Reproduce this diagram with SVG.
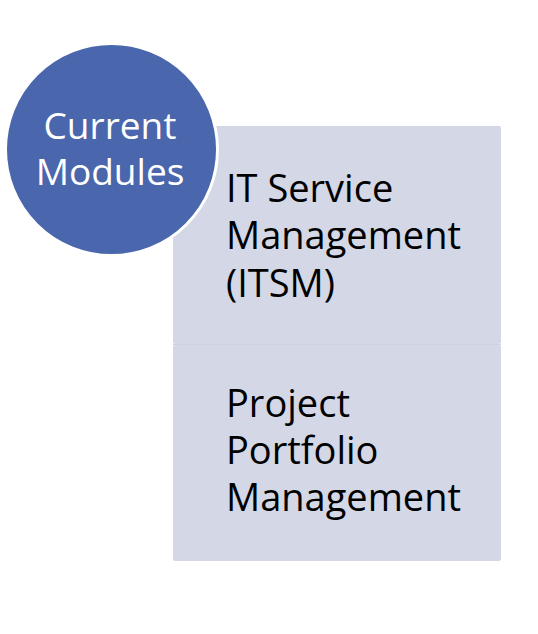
<svg xmlns="http://www.w3.org/2000/svg" width="538" height="634" viewBox="0 0 538 634">
<style>
.box{fill:#D3D7E6;}
.lbl{font-family:"Open Sans","Noto Sans",sans-serif;font-size:38px;fill:#000;}
.clbl{font-family:"Open Sans","Noto Sans",sans-serif;font-size:37px;fill:#fff;text-anchor:middle;}
</style>
<rect width="538" height="634" fill="#fff"/>
<g id="node-itsm">
<rect class="box" x="173" y="126" width="328" height="218" rx="2"/>
<text class="lbl"><tspan x="226" y="202">IT Service</tspan><tspan x="226" y="249">Management</tspan><tspan x="226" y="297">(ITSM)</tspan></text>
</g>
<g id="node-ppm">
<rect class="box" x="173" y="345" width="328" height="216" rx="2"/>
<text class="lbl"><tspan x="226" y="417">Project</tspan><tspan x="226" y="464">Portfolio</tspan><tspan x="226" y="511">Management</tspan></text>
</g>
<line x1="173" y1="344.5" x2="501" y2="344.5" stroke="#CDD1E2" stroke-width="1"/>
<g id="node-current">
<circle cx="111.5" cy="149.5" r="106" fill="#4A66AC" stroke="#fff" stroke-width="3"/>
<text class="clbl"><tspan x="110" y="139">Current</tspan><tspan x="110" y="185">Modules</tspan></text>
</g>
<g id="connectors"/>
</svg>
